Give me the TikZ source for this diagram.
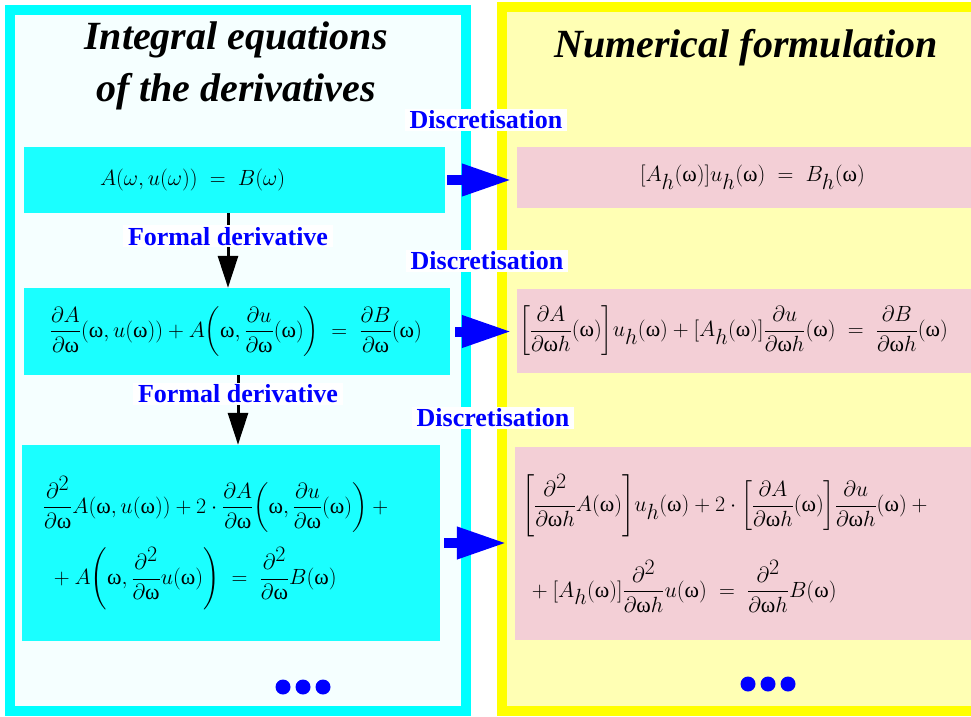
\RequirePackage{fix-cm}
\documentclass[tikz,border=0pt]{standalone}
\usepackage{amsmath}
\usepackage{fontspec}
\setmainfont{Liberation Serif}
\usetikzlibrary{arrows.meta, positioning}
\definecolor{cyanBorder}{RGB}{0, 255, 255}
\definecolor{cyanFill}{RGB}{26, 255, 255}
\definecolor{paleCyan}{RGB}{245, 255, 255}
\definecolor{yellowBorder}{RGB}{255, 255, 0}
\definecolor{paleYellow}{RGB}{255, 255, 180}
\definecolor{pinkFill}{RGB}{243, 207, 214}
\definecolor{stepBlue}{RGB}{0, 0, 255}
\newcommand{\om}{\text{ω}}
\newcommand{\lowh}{_{\textstyle h}}
\newcommand{\dsq}{\partial^{\textstyle 2}}
\newcommand{\eqsize}{\fontsize{22}{26}\selectfont}

\begin{document}
\begin{tikzpicture}[
    x=1pt, y=-1pt,
    panel/.style={rectangle, line width=10pt, inner sep=0pt},
    title/.style={font=\bfseries\itshape\fontsize{40}{52}\selectfont, align=center},
    eqbox/.style={rectangle, inner sep=0pt, align=left, font=\eqsize},
    cyanbox/.style={eqbox, fill=cyanFill},
    pinkbox/.style={eqbox, fill=pinkFill},
    steplabel/.style={fill=white, text=stepBlue, font=\bfseries\fontsize{26}{30}\selectfont, inner xsep=5pt, inner ysep=2pt},
    bigarrow/.style={draw=stepBlue, line width=10pt, -{Triangle[length=50pt, width=30pt]}},
    derarrow/.style={draw=black, line width=3pt, -{Triangle[length=32pt, width=20pt]}}
]
    \useasboundingbox (0,0) rectangle (971,716);
    \fill[white] (0,0) rectangle (971,716);
    \clip (0,0) rectangle (971,716);

    % Paineis
    \node (intpanel) [panel, draw=cyanBorder, fill=paleCyan, minimum width=456pt, minimum height=701pt] at (238,360.5) {};
    \node (numpanel) [panel, draw=yellowBorder, fill=paleYellow, minimum width=488pt, minimum height=704pt] at (746,359) {};
    \node (inttitle) [title] at (236,66) {Integral equations\\of the derivatives};
    \node (numtitle) [title] at (746,48) {Numerical formulation};

    % Equacoes integrais
    \node (eqA) [cyanbox, text width=421pt, minimum height=66pt] at (234.5,180)
        {\hspace*{76pt}$A(\omega, u(\omega)) \;=\; B(\omega)$};
    \node (eqB) [cyanbox, text width=426pt, minimum height=87pt] at (237,331.5)
        {\hspace*{26pt}$\displaystyle \frac{\partial A}{\partial\om}(\om, u(\om)) + A{\left(\om, \frac{\partial u}{\partial\om}(\om)\right)} \;=\; \frac{\partial B}{\partial\om}(\om)$};
    \node (eqC) [cyanbox, text width=418pt, minimum height=196pt] at (231,543)
        {\hspace*{21pt}$\displaystyle \frac{\dsq}{\partial\om}A(\om, u(\om)) + 2\cdot\frac{\partial A}{\partial\om}{\left(\om, \frac{\partial u}{\partial\om}(\om)\right)} + {}$\\[14pt]
         \hspace*{27pt}$\displaystyle {}+ A{\left(\om, \frac{\dsq}{\partial\om}u(\om)\right)} \;=\; \frac{\dsq}{\partial\om}B(\om)$};

    % Formulacao numerica
    \node (numA) [pinkbox, text width=483pt, minimum height=61pt] at (758.5,177.5)
        {\hspace*{123pt}$[A\lowh(\om)]u\lowh(\om) \;=\; B\lowh(\om)$};
    \node (numB) [pinkbox, text width=483pt, minimum height=84pt] at (758.5,331)
        {\hspace*{2pt}$\displaystyle {\left[\frac{\partial A}{\partial\om h}(\om)\right]}u\lowh(\om) + [A\lowh(\om)]\frac{\partial u}{\partial\om h}(\om) \;=\; \frac{\partial B}{\partial\om h}(\om)$};
    \node (numC) [pinkbox, text width=485pt, minimum height=193pt] at (757.5,543.5)
        {\hspace*{7pt}$\displaystyle {\left[\frac{\dsq}{\partial\om h}A(\om)\right]}u\lowh(\om) + 2\cdot{\left[\frac{\partial A}{\partial\om h}(\om)\right]}\frac{\partial u}{\partial\om h}(\om) + {}$\\[22pt]
         \hspace*{12pt}$\displaystyle {}+ [A\lowh(\om)]\frac{\dsq}{\partial\om h}u(\om) \;=\; \frac{\dsq}{\partial\om h}B(\om)$};

    % Derivadas formais
    \draw [derarrow] ([xshift=-6.5pt]eqA.south) -- node[steplabel, pos=.31] {Formal derivative} ([xshift=-9pt]eqB.north);
    \draw [derarrow] ([xshift=1pt]eqB.south) -- node[steplabel, pos=.27] {Formal derivative} ([xshift=7pt]eqC.north);

    % Discretizacao
    \draw [bigarrow, shorten <=2pt, shorten >=5pt] (eqA.east) -- (eqA.east -| numA.west);
    \draw [bigarrow, shorten <=5pt, shorten >=5pt] (eqB.east) -- (eqB.east -| numB.west);
    \draw [bigarrow, shorten <=4pt, shorten >=8pt] (eqC.east) -- (eqC.east -| numC.west);
    \node (discA) [steplabel] at (486,120) {Discretisation};
    \node (discB) [steplabel] at (487,261) {Discretisation};
    \node (discC) [steplabel] at (493,418) {Discretisation};

    % Reticencias
    \foreach \x in {283,303,323} \fill[stepBlue] (\x,687) circle[radius=7.5pt];
    \foreach \x in {748,768,788} \fill[stepBlue] (\x,684) circle[radius=7.5pt];
\end{tikzpicture}
\end{document}
